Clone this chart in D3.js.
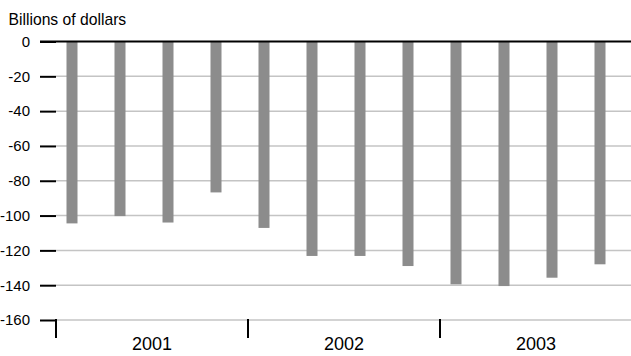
<!DOCTYPE html>
<html><head><meta charset="utf-8">
<script src="https://cdn.jsdelivr.net/npm/d3@7"></script>
<style>body{margin:0;background:#fff}svg{display:block}text{font-family:"Liberation Sans",Arial,sans-serif}</style>
</head><body><svg id="c" width="631" height="356"></svg>
<script>
const quarters = ["2001Q1","2001Q2","2001Q3","2001Q4","2002Q1","2002Q2","2002Q3","2002Q4","2003Q1","2003Q2","2003Q3","2003Q4"];
const values = [-104.5, -100.3, -104, -86.7, -107.1, -123.2, -123.2, -129, -139.5, -140.5, -135.7, -128];
const years = ["2001","2002","2003"];
const yTicks = [0,-20,-40,-60,-80,-100,-120,-140,-160];
const title = "Billions of dollars";

const svg = d3.select("#c");
const mLeft = 56, mRight = 632, mTop = 41.5, mBottom = 320;
const y = d3.scaleLinear().domain([0,-160]).range([mTop,mBottom]);
const xq = d3.scaleBand().domain(quarters).range([mLeft,mRight]);
const xy = d3.scaleBand().domain(years).range([mLeft,mRight]);

svg.append("text").attr("x",8.5).attr("y",25).attr("font-size",15.7).attr("fill","#000").text(title);

// gridlines
svg.append("g").selectAll("line").data(yTicks.filter(d=>d!==0)).join("line")
  .attr("x1",mLeft).attr("x2",631).attr("y1",d=>y(d)).attr("y2",d=>y(d))
  .attr("stroke","#c4c4c4").attr("stroke-width",1.5);

// y axis
const ya = svg.append("g").attr("transform",`translate(${mLeft},0)`)
  .call(d3.axisLeft(y).tickValues(yTicks).tickSize(16).tickPadding(10).tickFormat(d=>d));
ya.select(".domain").remove();
ya.selectAll(".tick line").attr("stroke","#000").attr("stroke-width",2);
ya.selectAll(".tick text").attr("font-size",15).attr("fill","#000").attr("font-family","Liberation Sans, Arial, sans-serif");

// bars
const bw = 11;
svg.append("g").selectAll("rect").data(values).join("rect")
  .attr("x",(d,i)=>xq(quarters[i]) + xq.bandwidth()/3 - bw/2)
  .attr("width",bw)
  .attr("y",y(0))
  .attr("height",d=>y(d)-y(0))
  .attr("fill","#8c8c8c");

// zero line
svg.append("line").attr("x1",40).attr("x2",631).attr("y1",y(0)).attr("y2",y(0))
  .attr("stroke","#000").attr("stroke-width",2);

// x axis (years)
const xa = svg.append("g").attr("transform",`translate(0,${mBottom})`)
  .call(d3.axisBottom(xy).tickSize(0).tickPadding(17));
xa.select(".domain").remove();
xa.selectAll(".tick text").attr("font-size",18).attr("fill","#000").attr("font-family","Liberation Sans, Arial, sans-serif");
const bounds = [mLeft, ...years.map(d=>xy(d)+xy.bandwidth())];
svg.append("g").selectAll("line").data(bounds).join("line")
  .attr("x1",d=>d).attr("x2",d=>d).attr("y1",mBottom-1).attr("y2",mBottom+18)
  .attr("stroke","#000").attr("stroke-width",2);
</script></body></html>
